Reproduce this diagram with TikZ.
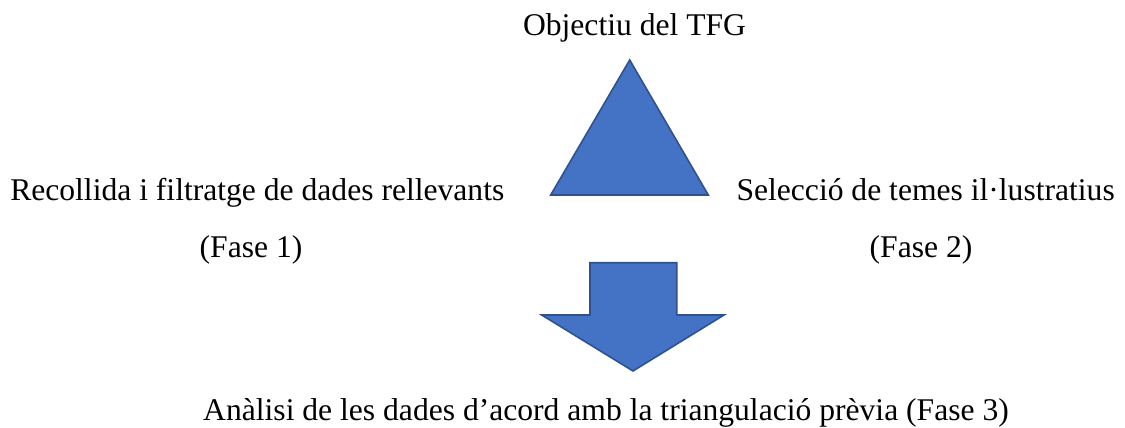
\documentclass[tikz,border=0pt]{standalone}
\usepackage{fontspec}
\setmainfont{Liberation Serif}
\definecolor{shapefill}{HTML}{4472C4}
\definecolor{shapeline}{HTML}{2F528F}
\begin{document}
\begin{tikzpicture}[x=0.75pt,y=-0.75pt,
  lbl/.style={inner sep=0pt,font=\fontsize{23.7pt}{28pt}\selectfont},
  blueshape/.style={fill=shapefill,draw=shapeline,line width=1.2pt,line join=miter}]
\useasboundingbox (0,0) rectangle (1125,428);
\node[lbl,anchor=base] (goal) at (634.5,36) {Objectiu del TFG};
\node[lbl,anchor=base west] (f1) at (10,200) {Recollida i filtratge de dades rellevants};
\node[lbl,anchor=base] (f1b) at (251,257) {(Fase 1)};
\node[lbl,anchor=base east] (f2) at (1115,200) {Selecció de temes il·lustratius};
\node[lbl,anchor=base] (f2b) at (921,257) {(Fase 2)};
\node[lbl,anchor=base] (f3) at (606,420) {Anàlisi de les dades d’acord amb la triangulació prèvia (Fase 3)};
% triangle
\coordinate (tA) at (629.7,60);
\coordinate (tL) at (550.7,195);
\coordinate (tR) at (708.3,195);
\draw[blueshape] (tA) -- (tR) -- (tL) -- cycle;
% down arrow
\draw[blueshape] (590,262.7) -- (676.7,262.7) -- (676.7,315) -- (724,315) -- (633,371)
  -- (541.7,315) -- (590,315) -- cycle;
\end{tikzpicture}
\end{document}
